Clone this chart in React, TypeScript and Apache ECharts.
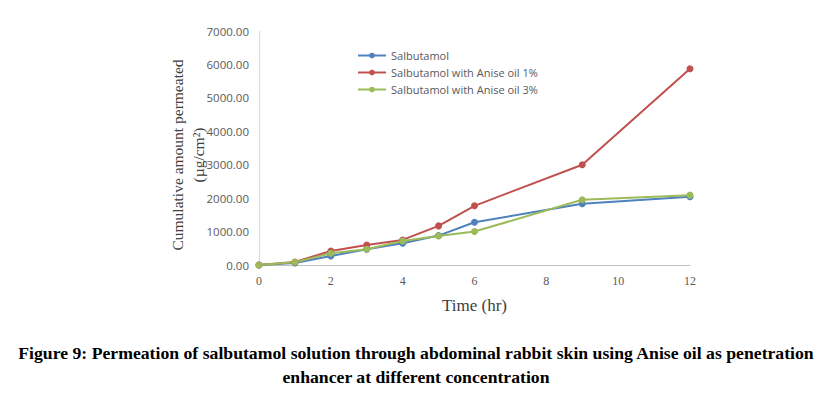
import React, { useEffect, useRef } from "react";
import * as echarts from "echarts";

const hours = [0, 1, 2, 3, 4, 5, 6, 9, 12];
const salbutamol = [0, 60, 270, 470, 650, 880, 1280, 1830, 2040];
const anise1 = [0, 90, 420, 600, 750, 1170, 1770, 3000, 5870];
const anise3 = [0, 80, 350, 470, 720, 870, 1000, 1950, 2090];
const seriesNames = ["Salbutamol", "Salbutamol with Anise oil 1%", "Salbutamol with Anise oil 3%"];
const colors = ["#4f81bd", "#c0504d", "#9bbb59"];
const captionLines = [
  "Figure 9: Permeation of salbutamol solution through abdominal rabbit skin using Anise oil as penetration",
  "enhancer at different concentration",
];

export default function App() {
  const ref = useRef<HTMLDivElement>(null);
  useEffect(() => {
    document.body.style.margin = "0";
    const chart = echarts.init(ref.current!, null, { renderer: "svg" });
    const all = [salbutamol, anise1, anise3];
    chart.setOption({
      animation: false,
      backgroundColor: "#ffffff",
      grid: { left: 259, right: 136, top: 31, bottom: 131, containLabel: false },
      legend: {
        orient: "vertical",
        left: 352,
        top: 45,
        itemGap: 6,
        itemWidth: 28,
        itemHeight: 7,
        textStyle: { color: "#595959", fontSize: 11, fontFamily: "Open Sans" },
        data: seriesNames,
      },
      xAxis: {
        type: "value",
        min: 0,
        max: 12,
        interval: 2,
        axisLine: { show: true, lineStyle: { color: "#bfbfbf" } },
        axisTick: { show: false },
        splitLine: { show: false },
        axisLabel: { color: "#595959", fontSize: 12, fontFamily: "Liberation Serif", margin: 10 },
        name: "Time (hr)",
        nameLocation: "middle",
        nameGap: 32,
        nameTextStyle: { color: "#404040", fontSize: 17, fontFamily: "Liberation Serif" },
      },
      yAxis: {
        type: "value",
        min: 0,
        max: 7000,
        interval: 1000,
        axisLine: { show: true, lineStyle: { color: "#d9d9d9" } },
        axisTick: { show: false },
        splitLine: { show: false },
        axisLabel: {
          color: "#595959",
          fontSize: 11.5,
          fontFamily: "Open Sans",
          margin: 10,
          formatter: (v: number) => v.toFixed(2),
        },
      },
      graphic: [
        {
          type: "text",
          x: 177,
          y: 155,
          rotation: Math.PI / 2,
          style: {
            text: "Cumulative amount permeated",
            fill: "#404040",
            font: "15.5px 'Liberation Serif'",
            textAlign: "center",
            textVerticalAlign: "middle",
          },
        },
        {
          type: "text",
          x: 198,
          y: 155,
          rotation: Math.PI / 2,
          style: {
            text: "(µg/cm²)",
            fill: "#404040",
            font: "15.5px 'Liberation Serif'",
            textAlign: "center",
            textVerticalAlign: "middle",
          },
        },
        ...captionLines.map((t, i) => ({
          type: "text",
          x: 416,
          y: 353 + i * 24,
          style: {
            text: t,
            fill: "#000000",
            font: "bold 17.7px 'Liberation Serif'",
            textAlign: "center",
            textVerticalAlign: "middle",
          },
        })),
      ],
      series: all.map((d, i) => ({
        name: seriesNames[i],
        type: "line",
        data: hours.map((h, j) => [h, d[j]]),
        symbol: "circle",
        symbolSize: 7,
        color: colors[i],
        lineStyle: { width: 2, color: colors[i] },
        itemStyle: { color: colors[i] },
      })),
    });
    return () => chart.dispose();
  }, []);
  return <div ref={ref} style={{ width: 826, height: 396 }} />;
}
